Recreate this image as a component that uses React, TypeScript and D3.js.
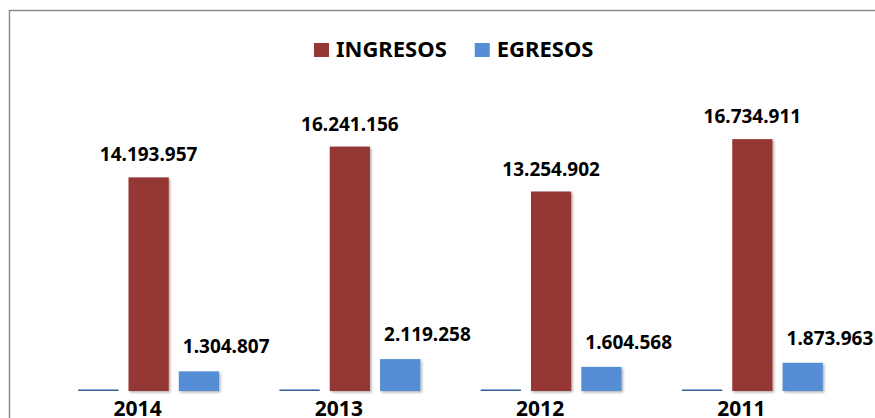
import React, { useEffect, useRef } from 'react'
import * as d3 from 'd3'

// chart data
const years = ['2014', '2013', '2012', '2011']
const anio = [2014, 2013, 2012, 2011]
const ingresos = [14193957, 16241156, 13254902, 16734911]
const egresos = [1304807, 2119258, 1604568, 1873963]
const seriesNames = ['AÑO', 'INGRESOS', 'EGRESOS']
const legendNames = ['INGRESOS', 'EGRESOS']
const colors = { 'AÑO': '#2F5E9E', INGRESOS: '#953735', EGRESOS: '#558ED5' }

const W = 875
const H = 418
const FONT = '"Noto Sans", "Open Sans", sans-serif'

const fmt = d3.formatLocale({ decimal: ',', thousands: '.', grouping: [3], currency: ['$', ''] }).format(',d')

export default function App() {
    const svgRef = useRef(null)

    useEffect(() => {
        const svg = d3.select(svgRef.current)
        svg.selectAll('*').remove()

        const defs = svg.append('defs')
        defs.append('filter')
            .attr('id', 'shadow')
            .attr('x', '-20%').attr('y', '-20%').attr('width', '140%').attr('height', '140%')
            .append('feDropShadow')
            .attr('dx', 1.5).attr('dy', 1.5).attr('stdDeviation', 1.2)
            .attr('flood-color', '#000').attr('flood-opacity', 0.3)

        // frame (runs off the right and bottom edge like the original)
        svg.append('rect')
            .attr('x', 9.5).attr('y', 10.5)
            .attr('width', 1000).attr('height', 600)
            .attr('fill', 'none')
            .attr('stroke', '#8c8c8c')
            .attr('stroke-width', 1.5)

        const rows = years.map((y, i) => ({
            year: y,
            values: [
                { key: 'AÑO', value: anio[i] },
                { key: 'INGRESOS', value: ingresos[i] },
                { key: 'EGRESOS', value: egresos[i] },
            ],
        }))

        const x0 = d3.scaleBand().domain(years).range([48, 853]).paddingInner(0.3).paddingOuter(0.15)
        const x1 = d3.scaleBand().domain(seriesNames).range([0, x0.bandwidth()]).paddingInner(0.2)
        const y = d3.scaleLinear().domain([0, 20000000]).range([391, 90])

        const groups = svg.selectAll('g.grp')
            .data(rows)
            .enter()
            .append('g')
            .attr('class', 'grp')
            .attr('transform', (d) => `translate(${x0(d.year)},0)`)

        groups.selectAll('rect')
            .data((d) => d.values)
            .enter()
            .append('rect')
            .attr('x', (d) => x1(d.key))
            .attr('width', x1.bandwidth())
            .attr('y', (d) => Math.min(y(d.value), y(0) - 1.5))
            .attr('height', (d) => Math.max(y(0) - y(d.value), 1.5))
            .attr('fill', (d) => colors[d.key])
            .attr('filter', (d) => (d.key === 'AÑO' ? null : 'url(#shadow)'))

        // value labels
        groups.selectAll('text.val')
            .data((d) => d.values.filter((v) => v.key !== 'AÑO'))
            .enter()
            .append('text')
            .attr('class', 'val')
            .attr('x', (d) => (d.key === 'INGRESOS' ? x1(d.key) + x1.bandwidth() / 2 : x1(d.key) + 4))
            .attr('y', (d) => y(d.value) - (d.key === 'INGRESOS' ? 16 : 18))
            .attr('text-anchor', (d) => (d.key === 'INGRESOS' ? 'middle' : 'start'))
            .attr('font-family', FONT)
            .attr('font-weight', 'bold')
            .attr('font-size', 19)
            .attr('fill', '#000')
            .text((d) => fmt(d.value))

        // category labels
        svg.selectAll('text.year')
            .data(years)
            .enter()
            .append('text')
            .attr('class', 'year')
            .attr('x', (d) => x0(d) + x1('INGRESOS') + x1.bandwidth() / 2 - 11)
            .attr('y', 416)
            .attr('text-anchor', 'middle')
            .attr('font-family', FONT)
            .attr('font-weight', 'bold')
            .attr('font-size', 21)
            .attr('fill', '#000')
            .text((d) => d)

        // legend
        const legend = svg.append('g').attr('transform', 'translate(314,0)')
        let lx = 0
        legendNames.forEach((name) => {
            const item = legend.append('g').attr('transform', `translate(${lx},0)`)
            item.append('rect')
                .attr('x', 0).attr('y', 43)
                .attr('width', 15).attr('height', 14)
                .attr('fill', colors[name])
            const t = item.append('text')
                .attr('x', 22).attr('y', 57)
                .attr('font-family', FONT)
                .attr('font-weight', 'bold')
                .attr('font-size', 22)
                .attr('fill', '#000')
                .text(name)
            lx += 22 + t.node().getComputedTextLength() + 28
        })
    }, [])

    return (
        <svg
            ref={svgRef}
            width={W}
            height={H}
            style={{ position: 'absolute', left: 0, top: 0, background: '#fff' }}
        />
    )
}
